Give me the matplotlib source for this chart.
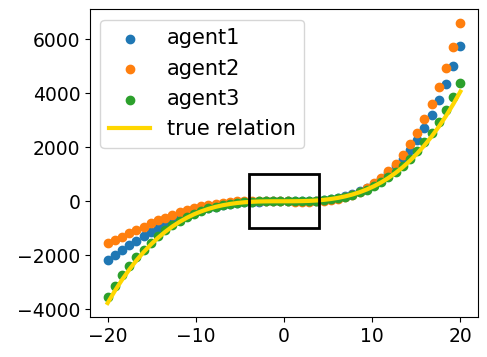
import matplotlib
matplotlib.use("Agg")
import matplotlib.pyplot as plt
from matplotlib.patches import Rectangle

x_neg = [-20.0, -19.184, -18.367, -17.551, -16.735, -15.918, -15.102, -14.286, -13.469, -12.653,
         -11.837, -11.020, -10.204, -9.388, -8.571, -7.755, -6.939, -6.122, -5.306, -4.490,
         -3.673, -2.857, -2.041, -1.224, -0.408]
x_pos = [0.408, 1.224, 2.041, 2.857, 3.673, 4.490, 5.306, 6.122, 6.939, 7.755,
         8.571, 9.388, 10.204, 11.020, 11.837, 12.653, 13.469, 14.286, 15.102, 15.918,
         16.735, 17.551, 18.367, 19.184, 20.0]
x = x_neg + x_pos

agent1 = [-2185, -1995, -1809, -1630, -1457, -1292, -1136, -990, -853, -727,
          -611, -506, -413, -330, -257, -196, -144, -102, -68, -43,
          -24, -12, -5, -1, 0,
          0, 1, 5, 13, 27, 50, 83, 130, 192, 271,
          372, 497, 647, 828, 1041, 1290, 1579, 1912, 2290, 2719,
          3203, 3745, 4350, 5022, 5765]

agent2 = [-1550, -1430, -1307, -1183, -1060, -939, -822, -710, -604, -505,
          -414, -331, -256, -191, -135, -88, -50, -21, 0, 14,
          21, 23, 19, 13, 4,
          -4, -11, -15, -14, -4, 15, 47, 94, 160, 246,
          357, 495, 664, 868, 1110, 1395, 1726, 2108, 2545, 3042,
          3603, 4234, 4938, 5723, 6592]

agent3 = [-3543, -3131, -2751, -2402, -2083, -1793, -1530, -1294, -1082, -895,
          -730, -586, -462, -356, -267, -194, -136, -90, -55, -30,
          -13, -4, 1, 2, 1,
          -1, -1, 1, 8, 22, 43, 74, 116, 172, 242,
          330, 436, 563, 712, 885, 1085, 1313, 1572, 1862, 2187,
          2548, 2947, 3386, 3869, 4395]

true_relation = [-3772, -3323, -2911, -2535, -2193, -1883, -1603, -1353, -1130, -933,
                 -761, -611, -482, -373, -281, -206, -146, -99, -63, -37,
                 -19, -8, -3, 0, 0,
                 0, 2, 6, 14, 29, 52, 84, 126, 182, 251,
                 336, 438, 559, 701, 865, 1052, 1264, 1504, 1772, 2070,
                 2400, 2763, 3161, 3596, 4068]

box_x = [-4, 4]
box_y = [-1000, 1000]

plt.rcParams['font.size'] = 13
fig = plt.figure(figsize=(4.87, 3.57), dpi=100)
ax = fig.add_axes([90 / 487, 1 - 317 / 357, (478 - 90) / 487, (317 - 9.5) / 357])

ax.scatter(x, agent1, color='#1f77b4', label='agent1')
ax.scatter(x, agent2, color='#ff7f0e', label='agent2')
ax.scatter(x, agent3, color='#2ca02c', label='agent3')
ax.plot(x, true_relation, color='gold', lw=3, label='true relation')
ax.add_patch(Rectangle((box_x[0], box_y[0]), box_x[1] - box_x[0], box_y[1] - box_y[0],
                       fill=False, edgecolor='black', lw=2, zorder=5))

ax.set_xticks([-20, -10, 0, 10, 20])
ax.set_yticks([-4000, -2000, 0, 2000, 4000, 6000])
ax.tick_params(labelsize=13.5)
ax.legend(loc='upper left', fontsize=15)

fig.savefig('out.png', dpi=100)
